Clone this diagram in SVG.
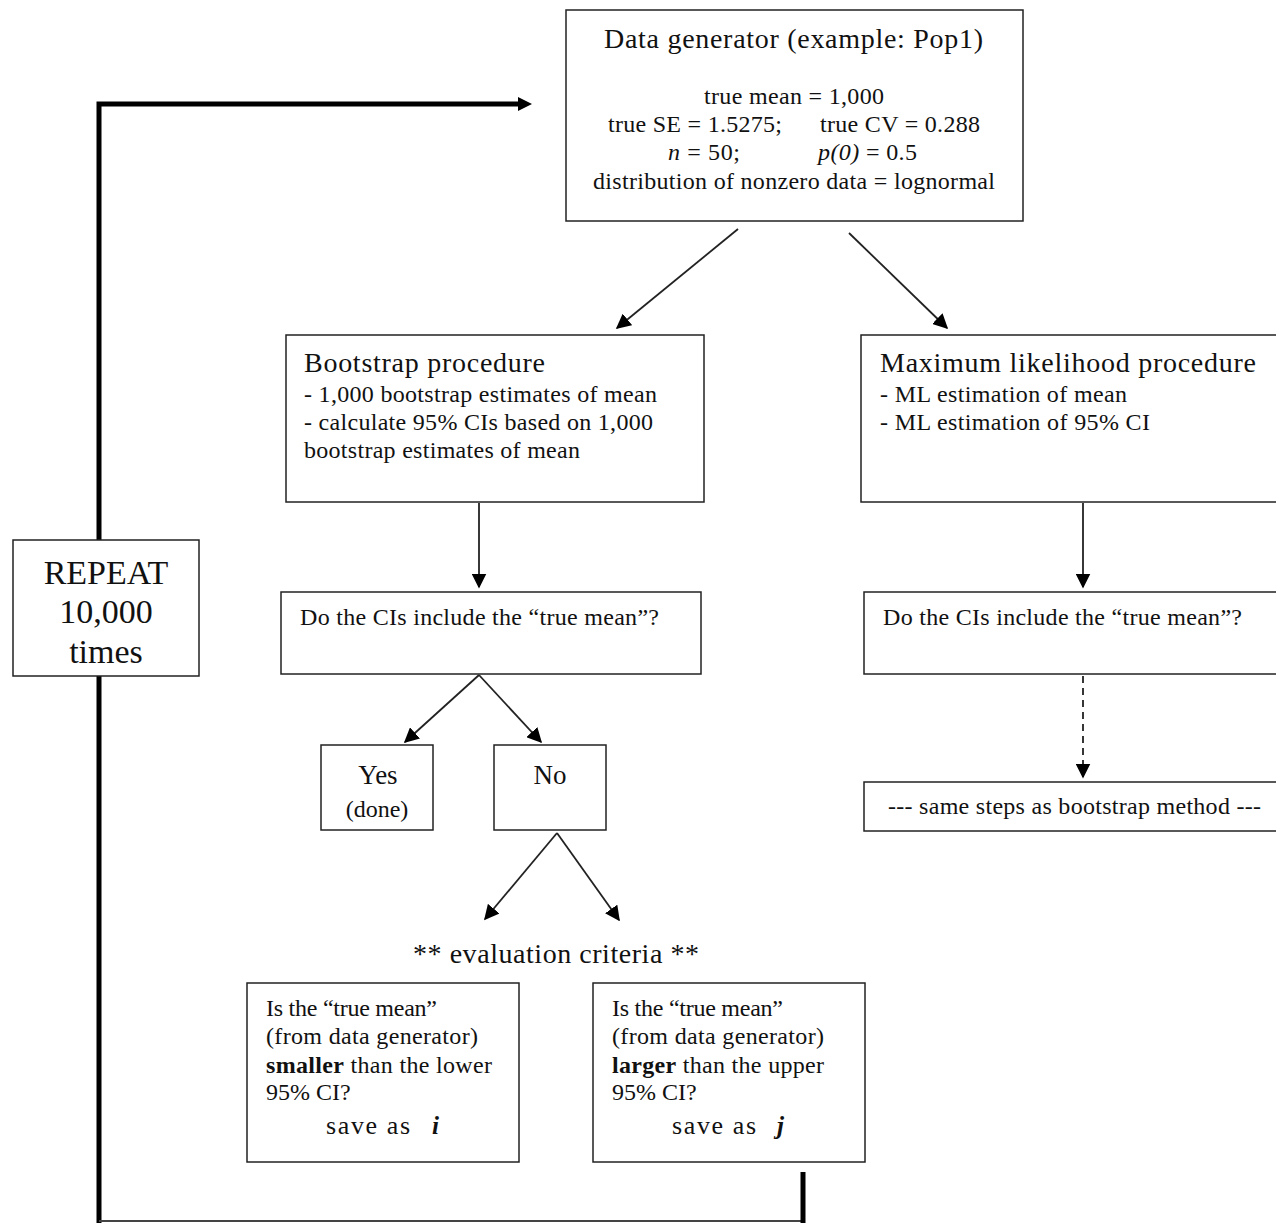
<svg xmlns="http://www.w3.org/2000/svg" width="1276" height="1223" viewBox="0 0 1276 1223">
<defs>
<style>
.box{fill:#fff;stroke:#222;stroke-width:1.5}
text{font-family:"Liberation Serif","Times New Roman",serif;fill:#111}
.t{font-size:24px}
.h{font-size:28px}
.big{font-size:34px}
.c{text-anchor:middle}
.ln{stroke:#222;stroke-width:1.8;fill:none}
.thick{stroke:#000;stroke-width:5;fill:none}
</style>
<marker id="ahm" viewBox="0 0 10 10" refX="9" refY="5" markerWidth="15" markerHeight="15" markerUnits="userSpaceOnUse" orient="auto"><path d="M0,0 L10,5 L0,10 z" fill="#000"/></marker>
</defs>
<rect width="1276" height="1223" fill="#fff"/>

<g id="connectors">
<path class="thick" d="M99,1223 V104 H520"/>
<path d="M518,97 L532,104 L518,111 z" fill="#000"/>
<line x1="99" y1="1221" x2="805" y2="1221" stroke="#444" stroke-width="2"/>
<line x1="803" y1="1172" x2="803" y2="1223" stroke="#000" stroke-width="5"/>
<line class="ln" x1="738" y1="229" x2="617" y2="328" marker-end="url(#ahm)"/>
<line class="ln" x1="849" y1="233" x2="947" y2="328" marker-end="url(#ahm)"/>
<line class="ln" x1="479" y1="503" x2="479" y2="587" stroke="#666" stroke-width="2" marker-end="url(#ahm)"/>
<line class="ln" x1="1083" y1="503" x2="1083" y2="587" stroke-width="2.2" marker-end="url(#ahm)"/>
<line class="ln" x1="1083" y1="676" x2="1083" y2="777" stroke-dasharray="7,5" marker-end="url(#ahm)"/>
<line class="ln" x1="479" y1="675" x2="405" y2="742" marker-end="url(#ahm)"/>
<line class="ln" x1="479" y1="675" x2="541" y2="742" marker-end="url(#ahm)"/>
<line class="ln" x1="557" y1="833" x2="485" y2="919" marker-end="url(#ahm)"/>
<line class="ln" x1="557" y1="833" x2="619" y2="920" marker-end="url(#ahm)"/>
</g>

<g id="data-generator">
<rect class="box" x="566" y="10" width="457" height="211"/>
<text class="h" x="604" y="48" textLength="379">Data generator (example: Pop1)</text>
<text class="t" x="704" y="104" textLength="180">true mean = 1,000</text>
<text class="t" x="608" y="132" textLength="174">true SE = 1.5275;</text>
<text class="t" x="820" y="132" textLength="160">true CV = 0.288</text>
<text class="t" x="668" y="160" textLength="72"><tspan font-style="italic">n</tspan> = 50;</text>
<text class="t" x="818" y="160" textLength="99"><tspan font-style="italic">p(0)</tspan> = 0.5</text>
<text class="t" x="593" y="189" textLength="402">distribution of nonzero data = lognormal</text>
</g>

<g id="repeat">
<rect class="box" x="13" y="540" width="186" height="136"/>
<text class="big c" x="106" y="584">REPEAT</text>
<text class="big c" x="106" y="623">10,000</text>
<text class="big c" x="106" y="663">times</text>
</g>

<g id="bootstrap">
<rect class="box" x="286" y="335" width="418" height="167"/>
<text class="h" x="304" y="372" textLength="241">Bootstrap procedure</text>
<text class="t" x="304" y="402" textLength="353">- 1,000 bootstrap estimates of mean</text>
<text class="t" x="304" y="430" textLength="349">- calculate 95% CIs based on 1,000</text>
<text class="t" x="304" y="458" textLength="276">bootstrap estimates of mean</text>
</g>

<g id="ml">
<rect class="box" x="861" y="335" width="420" height="167"/>
<text class="h" x="880" y="372" textLength="376">Maximum likelihood procedure</text>
<text class="t" x="880" y="402" textLength="247">- ML estimation of mean</text>
<text class="t" x="880" y="430" textLength="270">- ML estimation of 95% CI</text>
</g>

<g id="ci-bootstrap">
<rect class="box" x="281" y="592" width="420" height="82"/>
<text class="t" x="300" y="625" textLength="359">Do the CIs include the “true mean”?</text>
</g>

<g id="ci-ml">
<rect class="box" x="864" y="592" width="417" height="82"/>
<text class="t" x="883" y="625" textLength="359">Do the CIs include the “true mean”?</text>
</g>

<g id="same-steps">
<rect class="box" x="864" y="782" width="417" height="49"/>
<text class="t" x="888" y="814" textLength="373">--- same steps as bootstrap method ---</text>
</g>

<g id="yes">
<rect class="box" x="321" y="745" width="112" height="85"/>
<text class="c" x="378" y="784" font-size="27">Yes</text>
<text class="c" x="377" y="817" font-size="24">(done)</text>
</g>

<g id="no">
<rect class="box" x="494" y="745" width="112" height="85"/>
<text class="c" x="550" y="784" font-size="27">No</text>
</g>

<g id="criteria-label">
<text x="413" y="963" font-size="28" textLength="286">** evaluation criteria **</text>
</g>

<g id="smaller">
<rect class="box" x="247" y="983" width="272" height="179"/>
<text class="t" x="266" y="1016" textLength="171">Is the “true mean”</text>
<text class="t" x="266" y="1044" textLength="212">(from data generator)</text>
<text class="t" x="266" y="1073" textLength="226"><tspan font-weight="bold">smaller</tspan> than the lower</text>
<text class="t" x="266" y="1100">95% CI?</text>
<text x="326" y="1134" font-size="26" textLength="84">save as</text>
<text x="432" y="1134" font-size="25" font-weight="bold" font-style="italic">i</text>
</g>

<g id="larger">
<rect class="box" x="593" y="983" width="272" height="179"/>
<text class="t" x="612" y="1016" textLength="171">Is the “true mean”</text>
<text class="t" x="612" y="1044" textLength="212">(from data generator)</text>
<text class="t" x="612" y="1073" textLength="212"><tspan font-weight="bold">larger</tspan> than the upper</text>
<text class="t" x="612" y="1100">95% CI?</text>
<text x="672" y="1134" font-size="26" textLength="84">save as</text>
<text x="777" y="1134" font-size="25" font-weight="bold" font-style="italic">j</text>
</g>
</svg>
